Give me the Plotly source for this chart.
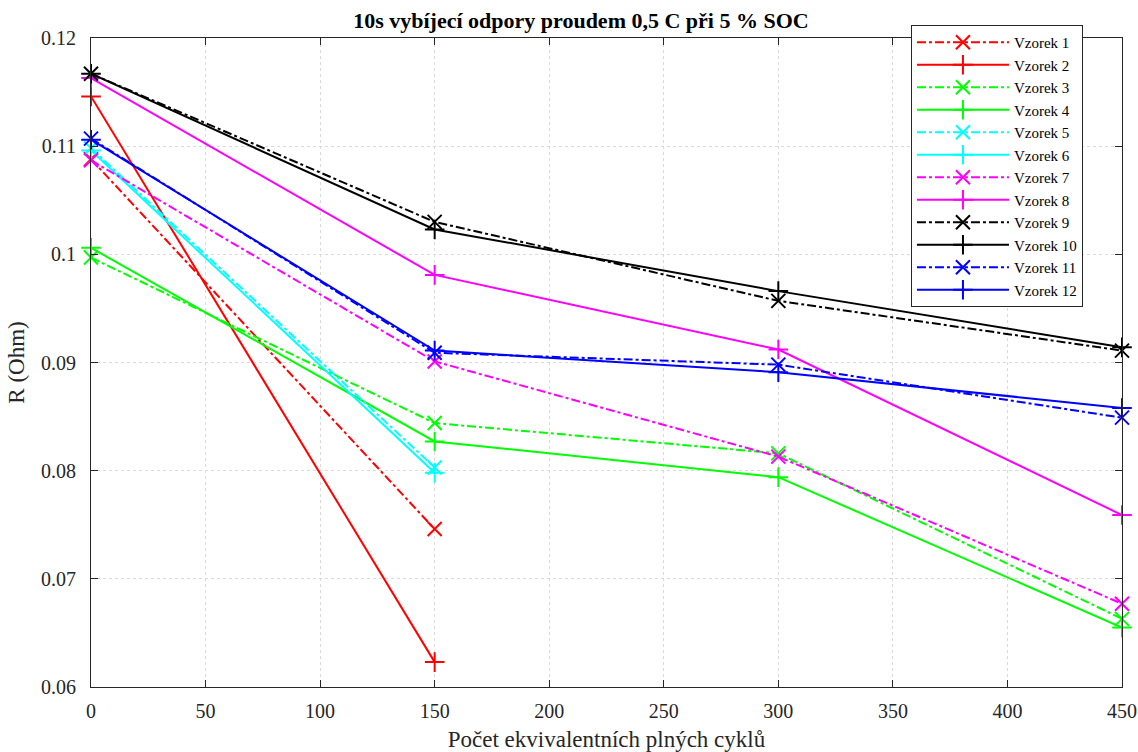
import plotly.graph_objects as go

cycles = [0, 150, 300, 450]
cycles_short = [0, 150]

v1 = [0.1088, 0.0746]
v2 = [0.1146, 0.0623]
v3 = [0.0997, 0.0844, 0.0816, 0.0663]
v4 = [0.1006, 0.0827, 0.0794, 0.0655]
v5 = [0.1098, 0.0803]
v6 = [0.1096, 0.0798]
v7 = [0.1087, 0.0901, 0.0813, 0.0677]
v8 = [0.1163, 0.0981, 0.0912, 0.0759]
v9 = [0.1167, 0.1030, 0.0957, 0.0911]
v10 = [0.1167, 0.1023, 0.0966, 0.0914]
v11 = [0.1107, 0.0909, 0.0898, 0.0849]
v12 = [0.1106, 0.0911, 0.0891, 0.0858]

names = ["Vzorek %d" % i for i in range(1, 13)]
series = [(cycles_short, v1), (cycles_short, v2), (cycles, v3), (cycles, v4),
          (cycles_short, v5), (cycles_short, v6), (cycles, v7), (cycles, v8),
          (cycles, v9), (cycles, v10), (cycles, v11), (cycles, v12)]
colors = ["#FF0000", "#FF0000", "#00FF00", "#00FF00", "#00FFFF", "#00FFFF",
          "#FF00FF", "#FF00FF", "#000000", "#000000", "#0000FF", "#0000FF"]

y_ticks = [0.06, 0.07, 0.08, 0.09, 0.1, 0.11, 0.12]
y_tick_text = ["0.06", "0.07", "0.08", "0.09", "0.1", "0.11", "0.12"]
x_ticks = [0, 50, 100, 150, 200, 250, 300, 350, 400, 450]

fig = go.Figure()
for i, ((xs, ys), name, col) in enumerate(zip(series, names, colors)):
    dashed = (i % 2 == 0)
    fig.add_trace(go.Scatter(
        x=xs, y=ys, name=name, mode="lines+markers",
        line=dict(color=col, width=2, dash="dashdot" if dashed else "solid"),
        marker=dict(symbol="x-thin" if dashed else "cross-thin", size=14,
                    line=dict(color=col, width=2), color=col),
        cliponaxis=False,
    ))

font = "Liberation Serif"
axis_common = dict(showline=True, linecolor="#262626", linewidth=1, mirror="ticks",
                   ticks="inside", ticklen=7, tickcolor="#262626",
                   showgrid=True, gridcolor="#DADADA", griddash="dot", gridwidth=1,
                   zeroline=False, automargin=False,
                   tickfont=dict(family=font, size=20, color="#262626"))

fig.update_layout(
    width=1138, height=752,
    margin=dict(l=91, r=16, t=38, b=65),
    paper_bgcolor="white", plot_bgcolor="white",
    title=dict(text="<b>10s vybíjecí odpory proudem 0,5 C při 5 % SOC</b>",
               xref="container", x=0.5105, xanchor="center",
               yref="container", y=0.9735, yanchor="middle",
               font=dict(family=font, size=22, color="black")),
    xaxis=dict(range=[0, 450], tickvals=x_ticks, ticklabelstandoff=6,
               title=dict(text="Počet ekvivalentních plných cyklů",
                          font=dict(family=font, size=23, color="#262626"), standoff=9),
               **axis_common),
    yaxis=dict(range=[0.06, 0.12], tickvals=y_ticks, ticktext=y_tick_text,
               ticklabelstandoff=10,
               title=dict(text="R (Ohm)", font=dict(family=font, size=23, color="#262626"),
                          standoff=9),
               **axis_common),
    legend=dict(x=0.7953, y=1.02, xanchor="left", yanchor="top",
                bgcolor="white", bordercolor="#262626", borderwidth=1,
                font=dict(family=font, size=15, color="black"),
                tracegroupgap=0, itemwidth=92),
    showlegend=True,
)

fig.write_html("out.html")
